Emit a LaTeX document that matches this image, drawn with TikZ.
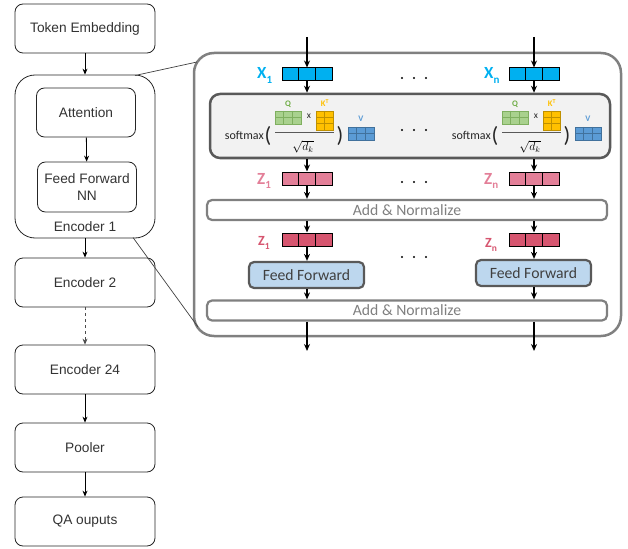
\documentclass[tikz,border=0pt]{standalone}
\usepackage{fontspec}
\setmainfont{Liberation Sans}
\newfontfamily\carl{Carlito}
\usetikzlibrary{calc,arrows.meta}
\definecolor{xblue}{HTML}{00B0F0}
\definecolor{zpinka}{HTML}{E37F98}
\definecolor{zpinkb}{HTML}{D6556F}
\definecolor{qfill}{HTML}{A9D18E}
\definecolor{qline}{HTML}{7FAF5F}
\definecolor{qtext}{HTML}{70AD47}
\definecolor{kfill}{HTML}{FFC000}
\definecolor{kline}{HTML}{BF9000}
\definecolor{vfill}{HTML}{5B9BD5}
\definecolor{vline}{HTML}{41719C}
\definecolor{attfill}{HTML}{F2F2F2}
\definecolor{darkb}{HTML}{595959}
\definecolor{grayb}{HTML}{808080}
\definecolor{fffill}{HTML}{BDD7EE}
\definecolor{ltext}{HTML}{333333}
\newcommand\myvsplit[2]{\foreach \f in {#1}{\draw[#2] ($(path picture bounding box.north west)!\f!(path picture bounding box.north east)$) -- ($(path picture bounding box.south west)!\f!(path picture bounding box.south east)$);}}
\newcommand\myhsplit[2]{\foreach \f in {#1}{\draw[#2] ($(path picture bounding box.north west)!\f!(path picture bounding box.south west)$) -- ($(path picture bounding box.north east)!\f!(path picture bounding box.south east)$);}}
\newcommand\softgroup[1]{%
 \node[smtext, anchor=east] (#1sm) at (264,135) {softmax};
 \node[paren] (#1lp) at (268,135.5) {(};
 \node[qm] (#1q) at (288,117.5) {};
 \node[mlabel, text=qtext] (#1ql) at (288,104) {Q};
 \node[smtext, font=\carl\fontsize{9.5}{10}\selectfont] (#1x) at (309,116) {x};
 \node[km] (#1k) at (324.5,120.5) {};
 \node[mlabel, text=kfill] (#1kl) at (325,103) {K\textsuperscript{T}};
 \draw[darkb, line width=1pt] (275,133) -- (334,133);
 \node[inner sep=0pt, font=\fontsize{11.5}{12}\selectfont] (#1sq) at (303,147) {$\sqrt{d_k}$};
 \node[paren] (#1rp) at (340,135.5) {)};
 \node[vm] (#1v) at (361,133.5) {};
 \node[mlabel, text=vfill] (#1vl) at (361,119) {V};
}
\begin{document}
\begin{tikzpicture}[x=1pt,y=-1pt,
 lbox/.style={draw=black!85, line width=0.8pt, rounded corners=8pt, fill=white, minimum width=140pt, minimum height=49pt, inner sep=0pt, font=\fontsize{13.7}{16.5}\selectfont, text=ltext, align=center},
 ibox/.style={lbox, minimum width=99pt},
 larr/.style={draw=black, line width=0.8pt, -{Stealth[length=6pt,width=5pt]}},
 rarr/.style={draw=black, line width=1.3pt, -{Stealth[length=7pt,width=6pt]}},
 vec/.style={draw=black, line width=1pt, minimum width=50pt, minimum height=13pt, inner sep=0pt, path picture={\myvsplit{1/3,2/3}{black,line width=0.8pt}}},
 qm/.style={fill=qfill, draw=qline, line width=0.6pt, minimum width=26pt, minimum height=13pt, inner sep=0pt, path picture={\myvsplit{1/3,2/3}{qline,line width=0.6pt}\myhsplit{1/2}{qline,line width=0.6pt}}},
 km/.style={fill=kfill, draw=kline, line width=0.6pt, minimum width=17pt, minimum height=19pt, inner sep=0pt, path picture={\myvsplit{1/2}{kline,line width=0.6pt}\myhsplit{1/3,2/3}{kline,line width=0.6pt}}},
 vm/.style={fill=vfill, draw=vline, line width=0.6pt, minimum width=26pt, minimum height=13pt, inner sep=0pt, path picture={\myvsplit{1/3,2/3}{vline,line width=0.6pt}\myhsplit{1/2}{vline,line width=0.6pt}}},
 smtext/.style={inner sep=0pt, text=black!85, font=\carl\fontsize{12}{12}\selectfont},
 paren/.style={inner sep=0pt, text=black!85, font=\carl\fontsize{22}{22}\selectfont},
 mlabel/.style={inner sep=0pt, font=\carl\bfseries\fontsize{8.5}{9}\selectfont},
 anbox/.style={draw=grayb, line width=2.2pt, rounded corners=5pt, fill=white, minimum width=400pt, minimum height=20pt, inner sep=0pt, text=grayb, font=\carl\fontsize{15.7}{16}\selectfont},
 ffbox/.style={draw=darkb, line width=2.2pt, rounded corners=5pt, fill=fffill, minimum width=115pt, minimum height=26pt, inner sep=0pt, text=black!75, font=\carl\fontsize{15.7}{16}\selectfont},
 biglab/.style={inner sep=0pt, anchor=base west, font=\carl\bfseries\fontsize{17}{17}\selectfont},
 smalllab/.style={inner sep=0pt, anchor=base west, font=\carl\bfseries\fontsize{14}{14}\selectfont}
]
\useasboundingbox (0,0) rectangle (628,548);
% ---------- left column ----------
\node[lbox] (tok) at (85,28.5) {Token Embedding};
\node[lbox, minimum height=163pt, rounded corners=20pt] (enc1) at (85,156.5) {};
\node[ibox] (att) at (86,112.5) {Attention};
\node[ibox, minimum height=50pt] (ffnn) at (87,187) {Feed Forward\\NN};
\node[inner sep=0pt, font=\fontsize{13.7}{16}\selectfont, text=ltext] (enc1lab) at (85,227) {Encoder 1};
\node[lbox] (enc2) at (85,282.5) {Encoder 2};
\node[lbox] (enc24) at (85,369.5) {Encoder 24};
\node[lbox] (pool) at (85,447.5) {Pooler};
\node[lbox] (qa) at (85,521.5) {QA ouputs};
\draw[larr] (tok) -- (enc1);
\draw[larr] (att) -- (ffnn);
\draw[larr] (enc1.south) -- (enc2.north);
\draw[larr, dashed, draw=black!70] (enc2) -- (enc24);
\draw[larr] (enc24) -- (pool);
\draw[larr] (pool) -- (qa);
% ---------- right big box ----------
\node[draw=grayb, line width=2.5pt, rounded corners=20pt, minimum width=427pt, minimum height=283pt, inner sep=0pt] (big) at (407.5,194.5) {};
\coordinate (zt) at (197,62);
\coordinate (zb) at (198,327);
\coordinate (et) at (135,75.5);
\coordinate (eb) at (133,237.5);
\draw[black!75, line width=0.7pt] (et) -- (zt);
\draw[black!75, line width=0.7pt] (eb) -- (zb);
\node[draw=darkb, line width=2.5pt, rounded corners=10pt, fill=attfill, minimum width=400pt, minimum height=64pt, inner sep=0pt] (attn) at (410,126) {};
\node[anbox] (an1) at (407,210) {Add \& Normalize};
\node[anbox] (an2) at (407,310.5) {Add \& Normalize};
% vectors
\node[vec, fill=xblue] (x1) at (307,74.5) {};
\node[vec, fill=xblue] (xn) at (534,74.5) {};
\node[vec, fill=zpinka] (za1) at (307,178.5) {};
\node[vec, fill=zpinka] (zan) at (534,178.5) {};
\node[vec, fill=zpinkb] (zb1) at (307,239.5) {};
\node[vec, fill=zpinkb] (zbn) at (534,239.5) {};
\node[ffbox] (ff1) at (306.5,275) {Feed Forward};
\node[ffbox] (ffn) at (533.5,273) {Feed Forward};
% labels
\node[biglab, text=xblue] (lx1) at (257,79) {X\raisebox{-4.5pt}{\fontsize{11}{11}\selectfont 1}};
\node[biglab, text=xblue] (lxn) at (484,79) {X\raisebox{-4.5pt}{\fontsize{11}{11}\selectfont n}};
\node[biglab, text=zpinka] (lza1) at (257,184) {Z\raisebox{-4.5pt}{\fontsize{11}{11}\selectfont 1}};
\node[biglab, text=zpinka] (lzan) at (484,184) {Z\raisebox{-4.5pt}{\fontsize{11}{11}\selectfont n}};
\node[smalllab, text=zpinkb] (lzb1) at (258,245) {Z\raisebox{-4pt}{\fontsize{9.5}{9.5}\selectfont 1}};
\node[smalllab, text=zpinkb] (lzbn) at (485,247) {Z\raisebox{-4pt}{\fontsize{9.5}{9.5}\selectfont n}};
% softmax groups
\softgroup{a}
\begin{scope}[xshift=227pt]
\softgroup{b}
\end{scope}
% dots
\foreach \yy in {78,130,182,257} \foreach \xx in {402,414,426} \fill (\xx,\yy) circle (1.1pt);
% arrows column 1
\coordinate (in1) at (307,37);
\coordinate (in2) at (534,37);
\coordinate (out1) at (307,351);
\coordinate (out2) at (534,351);
\draw[rarr] (in1) -- (x1.north);
\draw[rarr] (x1.south) -- (x1.south |- attn.north);
\draw[rarr] (attn.south -| za1) -- (za1.north);
\draw[rarr] (za1.south) -- (za1.south |- an1.north);
\draw[rarr] (an1.south -| zb1) -- (zb1.north);
\draw[rarr] (zb1.south) -- (zb1.south |- ff1.north);
\draw[rarr] (ff1.south -| zb1) -- (zb1 |- an2.north);
\draw[rarr] (an2.south -| zb1) -- (out1);
% arrows column 2
\draw[rarr] (in2) -- (xn.north);
\draw[rarr] (xn.south) -- (xn.south |- attn.north);
\draw[rarr] (attn.south -| zan) -- (zan.north);
\draw[rarr] (zan.south) -- (zan.south |- an1.north);
\draw[rarr] (an1.south -| zbn) -- (zbn.north);
\draw[rarr] (zbn.south) -- (zbn.south |- ffn.north);
\draw[rarr] (ffn.south -| zbn) -- (zbn |- an2.north);
\draw[rarr] (an2.south -| zbn) -- (out2);
\end{tikzpicture}
\end{document}
